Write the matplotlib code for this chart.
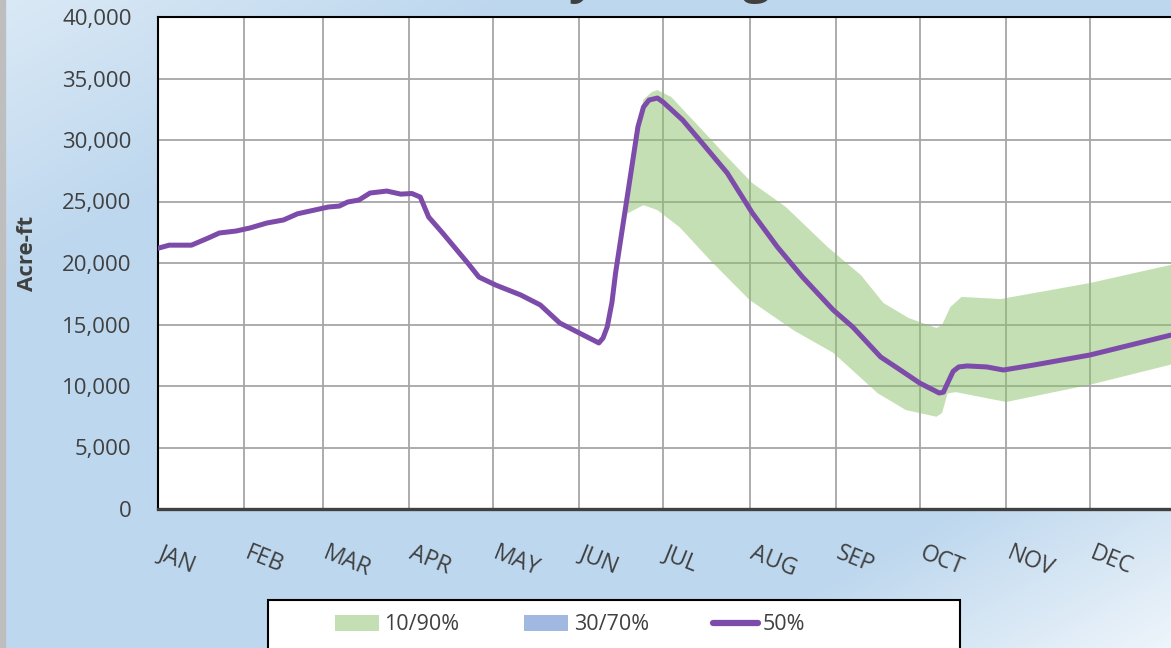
import numpy as np
import matplotlib
matplotlib.use("Agg")
import matplotlib.pyplot as plt
import matplotlib.transforms as mtransforms
from matplotlib.patches import Patch, Rectangle
from matplotlib.lines import Line2D
from matplotlib.ticker import FuncFormatter

plt.rcParams['font.family'] = ['Open Sans', 'DejaVu Sans']

# --- data (day of year, acre-ft) ---
months = ['JAN', 'FEB', 'MAR', 'APR', 'MAY', 'JUN', 'JUL', 'AUG', 'SEP', 'OCT', 'NOV', 'DEC']
month_starts = [0, 31, 59, 90, 120, 151, 181, 212, 243, 273, 304, 334]

med_days = [0, 4, 12, 18, 22, 28, 33, 39, 45, 50, 56, 61, 65, 68, 72, 76, 82, 87, 91, 94,
            97, 102, 111, 115, 121, 130, 137, 144, 151, 158, 159.5, 161, 162.7, 164, 168,
            172, 174, 176, 179, 181, 188, 195, 204, 213, 222, 231, 242, 249, 259, 265, 273,
            280, 281.5, 283, 285, 287, 290, 297, 303, 314, 334, 365]
med_vals = [21200, 21450, 21450, 22030, 22440, 22600, 22850, 23250, 23500, 24000, 24300,
            24550, 24630, 24960, 25120, 25690, 25850, 25600, 25650, 25360, 23740, 22440,
            20000, 18860, 18210, 17400, 16590, 15120, 14310, 13500, 13900, 14800, 16800,
            19190, 25120, 31060, 32680, 33250, 33410, 33090, 31630, 29760, 27320, 24070,
            21300, 18860, 16180, 14800, 12360, 11460, 10240, 9430, 9500, 10240, 11200,
            11550, 11630, 11550, 11300, 11710, 12520, 14250]

# 10% exceedance (lower edge) after it splits from the median
lo_days = [164, 168, 174, 179, 187, 198, 212, 228, 242, 258, 268, 279, 281, 283, 286, 304, 334, 365]
lo_vals = [19190, 24000, 24700, 24300, 22900, 20200, 17000, 14500, 12700, 9400, 8050, 7500,
           7800, 9400, 9500, 8700, 10100, 11850]

# 90% exceedance (upper edge) after it splits from the median
up_days = [168, 172, 174, 177, 179, 184, 194, 204, 213, 225, 240, 252, 260, 269, 279, 281,
           284, 288, 302, 334, 365]
up_vals = [25120, 31400, 33300, 33900, 34060, 33490, 31060, 28620, 26500, 24560, 21300,
           19000, 16750, 15530, 14720, 14960, 16420, 17240, 17070, 18370, 19950]

# --- styling ---
W, H = 1171, 648
txt_col = '#404040'
band_col = '#8BC169'
mid_col = '#A1B8E1'
line_col = '#7D4BA9'

fig = plt.figure(figsize=(W / 100, H / 100), dpi=100)

# gradient background
yy, xx = np.mgrid[0:H, 0:W]
u = (xx / W + yy / H) / 2
base = np.array([189, 215, 238]) / 255.0
f_tl = np.clip(1 - u / 0.22, 0, 1)[..., None] * 0.45
f_br = np.clip((u - 0.8) / 0.2, 0, 1)[..., None] * 0.75
img = base * (1 - f_tl - f_br) + 1.0 * (f_tl + f_br)
bg = fig.add_axes([0, 0, 1, 1], zorder=-10)
bg.imshow(img, aspect='auto', extent=[0, 1, 0, 1])
bg.axis('off')
fig.patches.append(Rectangle((0, 0), 5 / W, 1, transform=fig.transFigure,
                             color='#BEBEBE', zorder=-5))

# title, mostly cut off at the top
fig.text(0.543, 1.0 + 8 / H, 'Daily Storage', ha='center', va='baseline',
         fontsize=36, fontweight='bold', color=txt_col)

ax = fig.add_axes([158 / W, (H - 509) / H, (1176.4 - 158) / W, (509 - 17) / H])
ax.set_facecolor('white')

# band polygon: upper edge forward, lower edge back
up_x = [d for d in med_days if d < up_days[0]] + up_days
up_y = [v for d, v in zip(med_days, med_vals) if d < up_days[0]] + up_vals
lo_x = [d for d in med_days if d < lo_days[0]] + lo_days
lo_y = [v for d, v in zip(med_days, med_vals) if d < lo_days[0]] + lo_vals
ax.fill(up_x + lo_x[::-1], up_y + lo_y[::-1], color=band_col, alpha=0.5, lw=0, zorder=2)

ax.plot(med_days, med_vals, color=line_col, lw=3.6, solid_capstyle='round',
        solid_joinstyle='round', zorder=3)

ax.set_xlim(0, 365)
ax.set_ylim(0, 40000)
ax.set_yticks(range(0, 40001, 5000))
ax.yaxis.set_major_formatter(FuncFormatter(lambda v, p: f'{int(v):,}'))
ax.set_xticks(month_starts)
ax.set_xticklabels(months)
ax.grid(True, color='#A6A6A6', lw=1.3, zorder=1)
ax.set_axisbelow(True)

ax.tick_params(axis='y', length=0, pad=19, labelsize=16, labelcolor=txt_col)
ax.tick_params(axis='x', length=0, pad=23, labelsize=16.5, labelcolor=txt_col)
shift = mtransforms.ScaledTranslation(6 / 100, 0, fig.dpi_scale_trans)
for lab in ax.get_xticklabels():
    lab.set_rotation(-22)
    lab.set_ha('left')
    lab.set_va('top')
    lab.set_rotation_mode('anchor')
    lab.set_transform(lab.get_transform() + shift)

for s in ['left', 'top', 'right']:
    ax.spines[s].set_color('black')
    ax.spines[s].set_linewidth(1.5)
ax.spines['bottom'].set_color('#404040')
ax.spines['bottom'].set_linewidth(2.4)

ax.set_ylabel('Acre-ft', fontsize=16, fontweight='bold', color=txt_col)
ax.yaxis.set_label_coords(-0.118, 0.52)

# legend box (wider than its entries, bottom runs off the figure)
fig.patches.append(Rectangle((268 / W, -0.02), 692 / W, (H - 600) / H + 0.02,
                             transform=fig.transFigure, facecolor='white',
                             edgecolor='black', lw=1.5, zorder=4))
handles = [Patch(facecolor=band_col, alpha=0.5, edgecolor='none'),
           Patch(facecolor=mid_col, edgecolor='none'),
           Line2D([0], [0], color=line_col, lw=4.5, solid_capstyle='round')]
leg = fig.legend(handles, ['10/90%', '30/70%', '50%'], ncol=3, loc='center left',
                 bbox_to_anchor=(335 / W, (H - 625) / H), frameon=False,
                 fontsize=15.5, handlelength=2.05, handleheight=0.75, handletextpad=0.25,
                 columnspacing=3.0, borderpad=0, borderaxespad=0)
leg.set_zorder(6)
for t in leg.get_texts():
    t.set_color(txt_col)

fig.savefig('out.png', dpi=100)
